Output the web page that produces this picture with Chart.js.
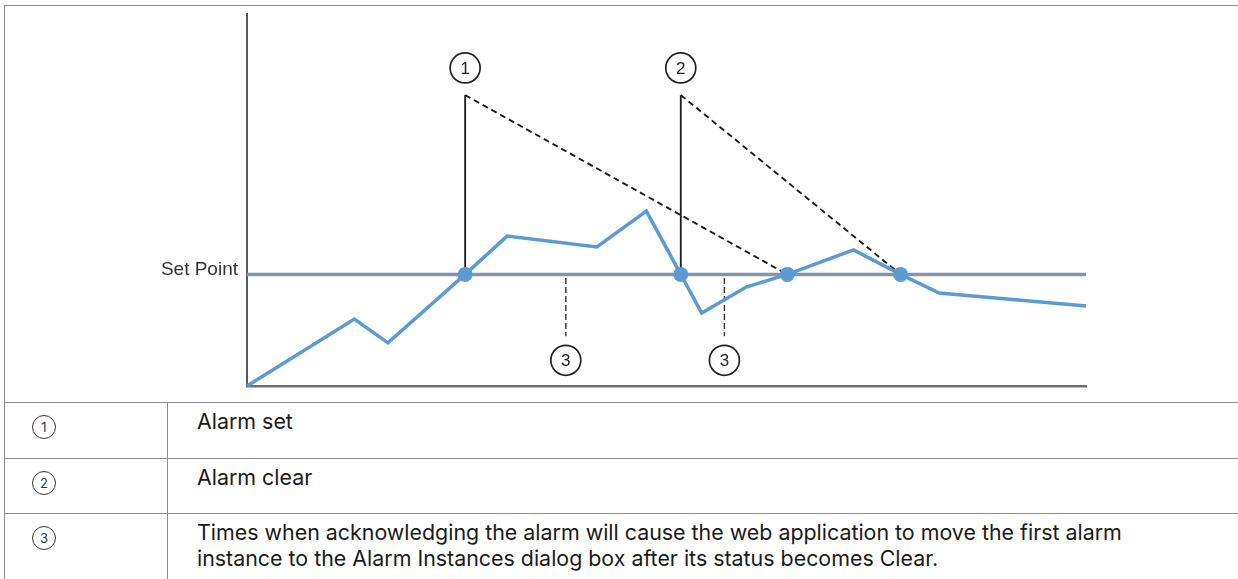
<!DOCTYPE html>
<html>
<head>
<meta charset="utf-8">
<title>Alarm set / clear</title>
<script src="https://cdn.jsdelivr.net/npm/chart.js@4.4.1/dist/chart.umd.min.js"></script>
<style>
    html, body {
        margin: 0;
        padding: 0;
        background: #fff;
        width: 1238px;
        height: 579px;
        overflow: hidden;
        font-family: Inter, Roboto, "Noto Sans", sans-serif;
        color: #1a1a1a;
    }
    #marco {
        position: absolute;
        left: 4px;
        top: 5px;
        width: 1234px;
        height: 574px;
        border-top: 1.5px solid #8c8c8c;
        border-left: 1.5px solid #8c8c8c;
        box-sizing: border-box;
    }
    #grafico {
        position: absolute;
        left: 0;
        top: 0;
    }
    #leyenda {
        position: absolute;
        left: 5px;
        top: 402px;
        width: 1233px;
        border-collapse: collapse;
    }
    #leyenda td {
        border-top: 1.5px solid #8c8c8c;
        vertical-align: top;
        padding: 0;
        font-size: 21.4px;
        line-height: 26px;
    }
    #leyenda td.num {
        width: 162px;
        border-right: 1.5px solid #8c8c8c;
    }
    #leyenda td.txt {
        padding-left: 29px;
        padding-top: 5px;
    }
    .circulo {
        display: block;
        margin: 12px 0 0 27px;
        width: 22px;
        height: 22px;
        border: 1.6px solid #333;
        border-radius: 50%;
        font-size: 13px;
        line-height: 22px;
        text-align: center;
        color: #333;
    }
</style>
</head>
<body>
<div id="marco"></div>
<canvas id="grafico" width="1238" height="400"></canvas>
<table id="leyenda">
    <tr style="height:56px">
        <td class="num"><span class="circulo">1</span></td>
        <td class="txt">Alarm set</td>
    </tr>
    <tr style="height:55px">
        <td class="num"><span class="circulo">2</span></td>
        <td class="txt">Alarm clear</td>
    </tr>
    <tr style="height:70px">
        <td class="num"><span class="circulo">3</span></td>
        <td class="txt">Times when acknowledging the alarm will cause the web application to move the first alarm<br>instance to the Alarm Instances dialog box after its status becomes Clear.</td>
    </tr>
</table>

<script>
// valor del senyal al llarg del temps
const tiempos = [0, 12.8, 16.8, 26, 31, 41.7, 47.6, 51.7, 54.2, 59.5, 64.4, 72.3, 77.9, 82.5, 100];
const valores = [0, 18, 11.6, 30, 40.3, 37.4, 47, 30, 19.6, 26.6, 30, 36.6, 30, 25, 21.5];
const cruces = [3, 7, 10, 12];

const setPoint = 30;
const etiquetaSetPoint = 'Set Point';

// 1 = alarma activada, 2 = alarma borrada
const alarmaX = [26, 51.7];
const alarmaFinX = [64.4, 77.9];
const alarmaTop = 78.2;
const alarmaNumY = 85.5;
const alarmaNums = ['1', '2'];

// 3 = momentos de reconocimiento
const reconX = [38, 56.9];
const reconTop = 29;
const reconBottom = 13.4;
const reconNumY = 6.9;

const negro = '#1a1a1a';

let datasets = [];

datasets.push({
    data: [{ x: 0, y: setPoint }, { x: 100, y: setPoint }],
    borderColor: '#8595a8',
    borderWidth: 3.5,
    pointRadius: 0,
    order: 3
});

alarmaX.forEach((x, i) => {
    datasets.push({
        data: [{ x: x, y: setPoint }, { x: x, y: alarmaTop }],
        borderColor: negro,
        borderWidth: 1.8,
        pointRadius: 0,
        order: 2
    });
    datasets.push({
        data: [{ x: x, y: alarmaTop }, { x: alarmaFinX[i], y: setPoint }],
        borderColor: negro,
        borderWidth: 1.9,
        borderDash: [6, 4],
        pointRadius: 0,
        order: 2
    });
});

reconX.forEach(x => {
    datasets.push({
        data: [{ x: x, y: reconTop }, { x: x, y: reconBottom }],
        borderColor: '#333',
        borderWidth: 1.4,
        borderDash: [6, 3],
        pointRadius: 0,
        order: 2
    });
});

datasets.push({
    data: tiempos.map((t, i) => ({ x: t, y: valores[i] })),
    borderColor: '#5b9bd1',
    backgroundColor: '#5b9bd1',
    borderWidth: 3.5,
    pointRadius: tiempos.map((t, i) => cruces.includes(i) ? 7.5 : 0),
    pointBorderWidth: 0,
    order: 1
});

// numeros dins de cercles
const circulos = {
    id: 'circulos',
    afterDatasetsDraw(chart) {
        let ctx = chart.ctx;
        let sx = chart.scales.x;
        let sy = chart.scales.y;
        let marcas = [];
        alarmaX.forEach((x, i) => marcas.push([x, alarmaNumY, alarmaNums[i]]));
        reconX.forEach(x => marcas.push([x, reconNumY, '3']));
        ctx.save();
        marcas.forEach(m => {
            let px = sx.getPixelForValue(m[0]);
            let py = sy.getPixelForValue(m[1]);
            ctx.beginPath();
            ctx.arc(px, py, 15, 0, Math.PI * 2);
            ctx.fillStyle = '#fff';
            ctx.fill();
            ctx.lineWidth = 1.7;
            ctx.strokeStyle = '#222';
            ctx.stroke();
            ctx.fillStyle = '#222';
            ctx.font = '17px "Liberation Sans", Arial, sans-serif';
            ctx.textAlign = 'center';
            ctx.textBaseline = 'middle';
            ctx.fillText(m[2], px, py + 1);
        });
        ctx.restore();
    }
};

let config = {
    type: 'scatter',
    data: { datasets: datasets },
    options: {
        responsive: false,
        animation: false,
        events: [],
        showLine: true,
        clip: false,
        layout: {
            padding: { top: 14, right: 152, left: 0, bottom: 0 }
        },
        plugins: {
            legend: { display: false },
            tooltip: { enabled: false }
        },
        scales: {
            x: {
                type: 'linear',
                min: 0,
                max: 100,
                grid: { display: false, drawTicks: false },
                ticks: { display: false },
                border: { display: true, color: '#6e6e6e', width: 2.5 },
                afterFit: (scale) => {
                    scale.height = 14;
                    scale.paddingLeft = 0;
                    scale.paddingRight = 0;
                }
            },
            y: {
                type: 'linear',
                min: 0,
                max: 100,
                grid: { display: false, drawTicks: false },
                border: { display: true, color: '#5a5a5a', width: 2 },
                afterBuildTicks: (scale) => { scale.ticks = [{ value: setPoint }]; },
                ticks: {
                    padding: 9,
                    labelOffset: -5,
                    color: '#333',
                    font: { family: '"Liberation Sans", Arial, sans-serif', size: 19 },
                    callback: () => etiquetaSetPoint
                },
                afterFit: (scale) => {
                    scale.width = 247;
                    scale.paddingTop = 0;
                    scale.paddingBottom = 0;
                }
            }
        }
    },
    plugins: [circulos]
};

new Chart(document.getElementById('grafico').getContext('2d'), config);
</script>
</body>
</html>
